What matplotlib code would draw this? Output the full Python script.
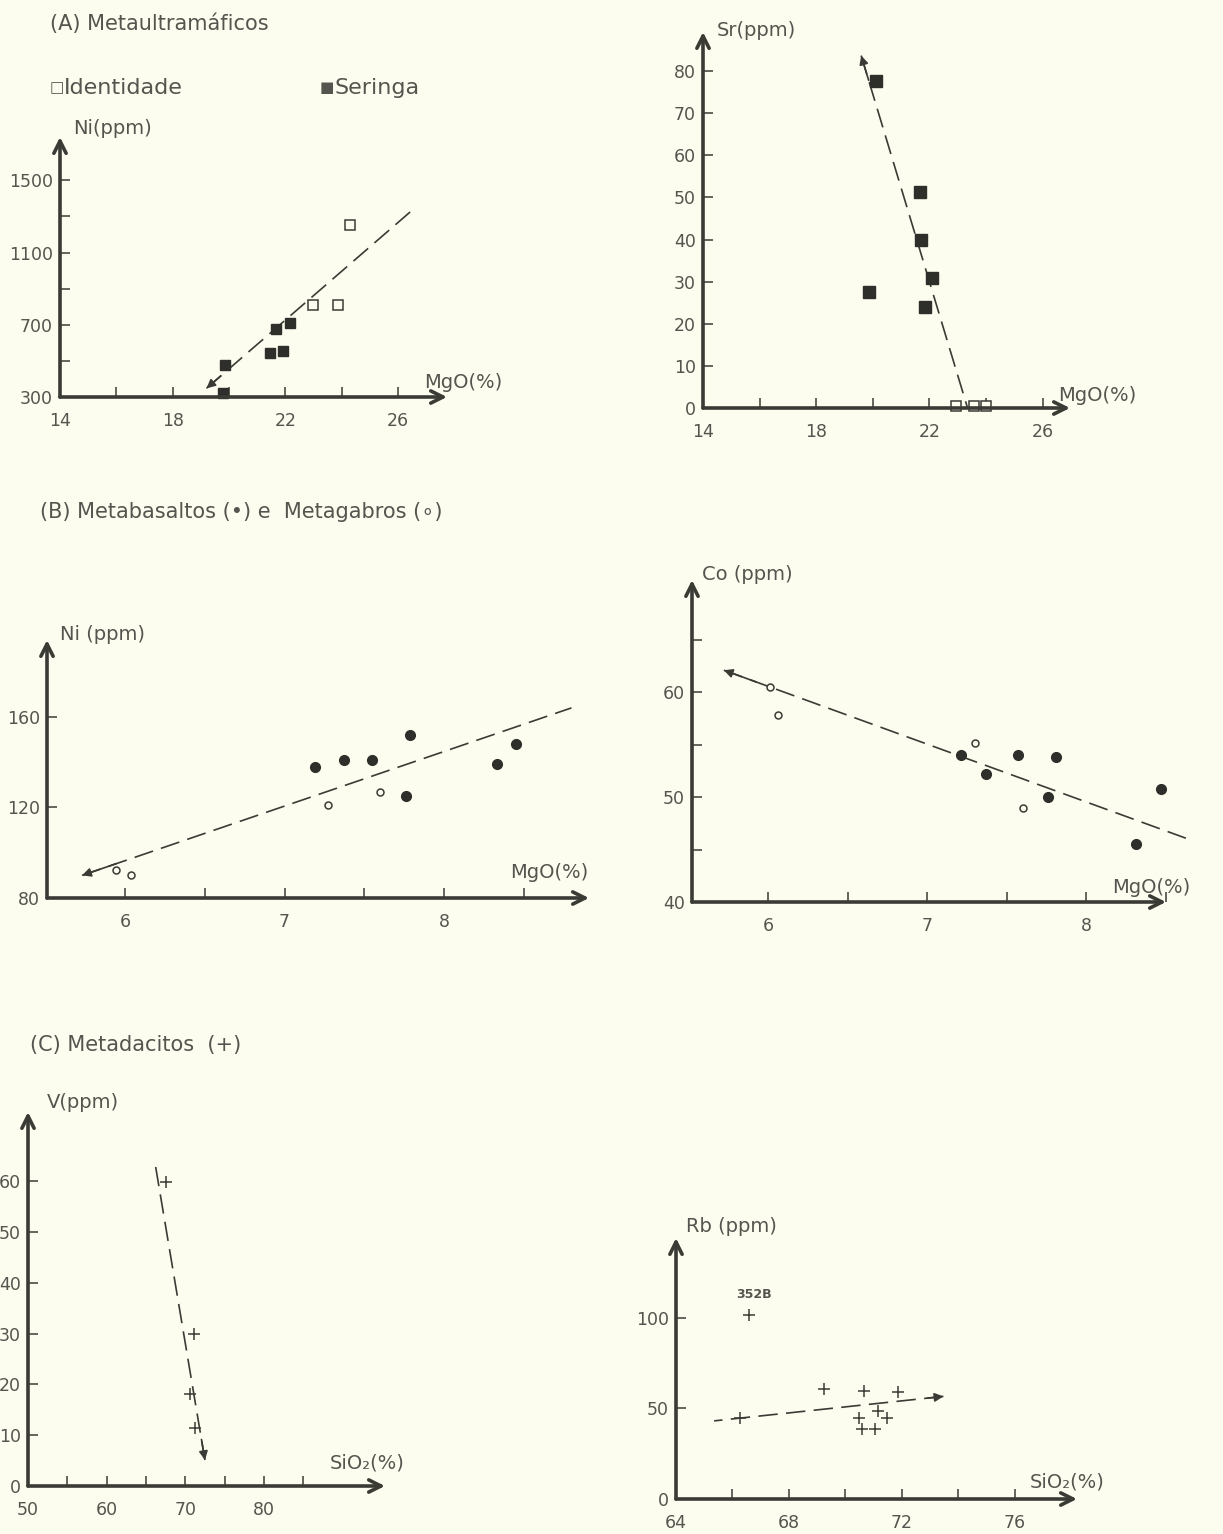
import numpy as np
import matplotlib
matplotlib.use('Agg')
import matplotlib.pyplot as plt

plt.rcParams['font.family'] = ['DejaVu Sans']
plt.rcParams['lines.scale_dashes'] = False

W, H = 1223, 1534
fundo = '#fcfcef'
cor_eixo = '#3b3b36'
cor_txt = '#55554f'

# (A) Metaultramaficos - Ni x MgO
a_ni_ident_mgo = [22.98, 23.87, 24.3]
a_ni_ident = [810, 810, 1255]
a_ni_ser_mgo = [19.85, 19.77, 21.68, 22.16, 21.45, 21.92]
a_ni_ser = [480, 324, 677, 710, 544, 553]
a_ni_trend_mgo = [19.2, 26.53]
a_ni_trend = [348, 1338]

# (A) Sr x MgO
a_sr_ser_mgo = [20.1, 19.88, 21.68, 21.7, 22.1, 21.86]
a_sr_ser = [77.6, 27.6, 51.2, 39.9, 30.8, 23.9]
a_sr_ident_mgo = [22.94, 23.59, 24.0]
a_sr_ident = [0.4, 0.4, 0.4]
a_sr_trend_mgo = [19.59, 23.35]
a_sr_trend = [83.7, 0]

# (B) Metabasaltos / Metagabros - Ni x MgO
b_ni_bas_mgo = [7.19, 7.37, 7.55, 7.79, 7.76, 8.33, 8.45]
b_ni_bas = [138, 141, 141, 152, 125, 139, 148]
b_ni_gab_mgo = [5.94, 6.04, 7.27, 7.6]
b_ni_gab = [92.3, 90.3, 121, 127]
b_ni_trend_mgo = [5.73, 8.8]
b_ni_trend = [90, 164]

# (B) Co x MgO
b_co_bas_mgo = [7.21, 7.37, 7.57, 7.81, 7.76, 8.31, 8.47]
b_co_bas = [54, 52.2, 54, 53.8, 50, 45.5, 50.8]
b_co_gab_mgo = [6.01, 6.06, 7.3, 7.6]
b_co_gab = [60.5, 57.8, 55.2, 49]
b_co_trend_mgo = [5.72, 8.64]
b_co_trend = [62.1, 46]

# (C) Metadacitos - V x SiO2
c_v_sio2 = [67.5, 71.1, 70.6, 71.2]
c_v = [59.9, 29.9, 18.1, 11.5]
c_v_trend_sio2 = [72.5, 66.2]
c_v_trend = [5.1, 63.1]

# (C) Rb x SiO2
c_rb_sio2 = [66.6, 66.27, 69.24, 70.65, 71.86, 70.47, 71.15, 71.47, 70.59, 71.06]
c_rb = [101.3, 44.9, 60.6, 59.7, 59.3, 44.9, 48.6, 44.9, 38.8, 38.8]
c_rb_trend_sio2 = [73.47, 65.35]
c_rb_trend = [56.6, 43.1]

fig = plt.figure(figsize=(W / 100, H / 100), dpi=100, facecolor=fundo)


def texto(x, y, s, size=14, **kw):
    fig.text(x / W, 1 - y / H, s, fontsize=size, color=cor_txt, va='center', **kw)


def painel(px_eixo_y, px_eixo_x, px_fim_x, px_topo, xlim, ylim,
           xmaj, xlab, xmin, ymaj, ylab, ymin):
    ax = fig.add_axes([px_eixo_y / W, 1 - px_eixo_x / H,
                       (px_fim_x - px_eixo_y) / W, (px_eixo_x - px_topo) / H])
    ax.set_facecolor('none')
    ax.set_xlim(xlim)
    ax.set_ylim(ylim)
    for s in ax.spines.values():
        s.set_visible(False)
    ax.set_xticks(xmaj, xlab)
    ax.set_xticks(xmin, minor=True)
    ax.set_yticks(ymaj, ylab)
    ax.set_yticks(ymin, minor=True)
    ax.tick_params(which='both', direction='in', color=cor_eixo, width=1.1,
                   length=7, labelsize=12.5, labelcolor=cor_txt)
    ax.tick_params(axis='x', which='both', pad=11)
    ax.tick_params(axis='y', which='both', pad=5)
    seta = dict(arrowstyle='->', lw=2.6, color=cor_eixo, mutation_scale=22,
                shrinkA=0, shrinkB=0)
    ax.annotate('', xy=(xlim[1], ylim[0]), xytext=(xlim[0], ylim[0]),
                arrowprops=seta, annotation_clip=False)
    ax.annotate('', xy=(xlim[0], ylim[1]), xytext=(xlim[0], ylim[0]),
                arrowprops=seta, annotation_clip=False)
    return ax


def tendencia(ax, xs, ys):
    # primeiro ponto = ponta da seta
    ln, = ax.plot(xs, ys, color=cor_eixo, lw=1.2, clip_on=False)
    ln.set_dashes((14, 6))
    x0, x1 = xs
    y0, y1 = ys
    ax.annotate('', xy=(x0, y0), xytext=(x0 + 0.07 * (x1 - x0), y0 + 0.07 * (y1 - y0)),
                arrowprops=dict(arrowstyle='-|>', color=cor_eixo, lw=1.2,
                                mutation_scale=13, shrinkA=0, shrinkB=0),
                annotation_clip=False)


# ---------- (A) ----------
texto(50, 24, '(A) Metaultramáficos', 15)
texto(50, 88, '□', 11)
texto(64, 88, 'Identidade', 16)
texto(320, 88, '■', 11)
texto(335, 88, 'Seringa', 16)

ax = painel(60, 397, 447, 137, (14, 27.74), (300, 1740),
            [14, 18, 22, 26], ['14', '18', '22', '26'], [16, 20, 24],
            [300, 700, 1100, 1500], ['300', '700', '1100', '1500'], [500, 900, 1300])
tendencia(ax, a_ni_trend_mgo, a_ni_trend)
ax.plot(a_ni_ser_mgo, a_ni_ser, 's', ms=7.5, color='#2e2e2a', clip_on=False)
ax.plot(a_ni_ident_mgo, a_ni_ident, 's', ms=6.5, mfc=fundo, mec='#3b3b36', mew=1.1, clip_on=False)
texto(73, 128, 'Ni(ppm)', 14)
texto(424, 382, 'MgO(%)', 14)

ax = painel(703, 408, 1070, 32, (14, 26.97), (0, 89.3),
            [14, 18, 22, 26], ['14', '18', '22', '26'], [16, 20, 24],
            list(range(0, 81, 10)), [str(v) for v in range(0, 81, 10)], [])
tendencia(ax, a_sr_trend_mgo, a_sr_trend)
ax.plot(a_sr_ser_mgo, a_sr_ser, 's', ms=8, color='#2e2e2a', clip_on=False)
ax.plot(a_sr_ident_mgo, a_sr_ident, 's', ms=6.5, mfc=fundo, mec='#3b3b36', mew=1.1, clip_on=False)
texto(717, 30, 'Sr(ppm)', 14)
texto(1058, 395, 'MgO(%)', 14)

# ---------- (B) ----------
texto(40, 512, '(B) Metabasaltos (•) e  Metagabros (∘)', 15)

ax = painel(47, 898, 589, 640, (5.51, 8.91), (80, 194),
            [6, 7, 8], ['6', '7', '8'], [6.5, 7.5, 8.5],
            [80, 120, 160], ['80', '120', '160'], [])
tendencia(ax, b_ni_trend_mgo, b_ni_trend)
ax.plot(b_ni_bas_mgo, b_ni_bas, 'o', ms=7, color='#2e2e2a', clip_on=False)
ax.plot(b_ni_gab_mgo, b_ni_gab, 'o', ms=5, mfc=fundo, mec='#3b3b36', mew=1.1, clip_on=False)
texto(60, 634, 'Ni (ppm)', 14)
texto(510, 873, 'MgO(%)', 14)

ax = painel(692, 902, 1166, 580, (5.52, 8.5), (40, 70.7),
            [6, 7, 8], ['6', '7', '8'], [6.5, 7.5, 8.5],
            [40, 50, 60], ['40', '50', '60'], [45, 55, 65])
tendencia(ax, b_co_trend_mgo, b_co_trend)
ax.plot(b_co_bas_mgo, b_co_bas, 'o', ms=7, color='#2e2e2a', clip_on=False)
ax.plot(b_co_gab_mgo, b_co_gab, 'o', ms=5, mfc=fundo, mec='#3b3b36', mew=1.1, clip_on=False)
texto(702, 575, 'Co (ppm)', 14)
texto(1112, 888, 'MgO(%)', 14)

# ---------- (C) ----------
texto(30, 1045, '(C) Metadacitos  (+)', 15)

ax = painel(28, 1486, 385, 1112, (50, 95.4), (0, 73.6),
            [50, 60, 70, 80], ['50', '60', '70', '80'], [55, 65, 75, 85],
            list(range(0, 61, 10)), [str(v) for v in range(0, 61, 10)], [])
tendencia(ax, c_v_trend_sio2, c_v_trend)
ax.plot(c_v_sio2, c_v, '+', ms=8, mew=1.1, color='#3b3b36', clip_on=False)
texto(47, 1103, 'V(ppm)', 14)
texto(330, 1463, 'SiO₂(%)', 14)

ax = painel(676, 1499, 1077, 1238, (64, 78.2), (0, 144),
            [64, 68, 72, 76], ['64', '68', '72', '76'], [66, 70, 74],
            [0, 50, 100], ['0', '50', '100'], [])
tendencia(ax, c_rb_trend_sio2, c_rb_trend)
ax.plot(c_rb_sio2, c_rb, '+', ms=8, mew=1.1, color='#3b3b36', clip_on=False)
ax.text(66.75, 113, '352B', fontsize=9, fontweight='bold', color=cor_txt, ha='center', va='center')
texto(686, 1227, 'Rb (ppm)', 14)
texto(1030, 1482, 'SiO₂(%)', 14)

fig.savefig('out.png', dpi=100, facecolor=fundo)
